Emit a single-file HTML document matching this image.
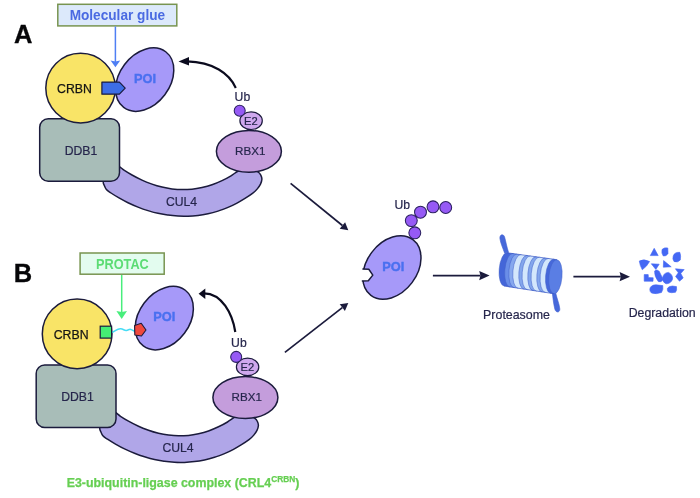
<!DOCTYPE html>
<html lang="en">
<head>
<meta charset="utf-8">
<title>Molecular glue and PROTAC degradation</title>
<style>
html,body{margin:0;padding:0;background:#fff;}
body{width:700px;height:498px;overflow:hidden;}
svg{display:block;filter:blur(0.55px);}
</style>
</head>
<body>
<svg width="700" height="498" viewBox="0 0 700 498" font-family="'Liberation Sans', Arial, sans-serif">
<rect width="700" height="498" fill="#ffffff"/>
<text x="13.9" y="42.9" font-size="25.5" font-weight="bold" fill="#060608" stroke="#060608" stroke-width="0.3">A</text>
<rect x="57.8" y="4.3" width="119" height="21.6" fill="#dce9fb" stroke="#789450" stroke-width="1.5"/>
<text x="117.4" y="20.2" font-size="15" font-weight="bold" text-anchor="middle" fill="#4a6ae2" textLength="95.5" lengthAdjust="spacingAndGlyphs">Molecular glue</text>
<path d="M115.4 26.5 V62" stroke="#4f7ff4" stroke-width="1.5" fill="none"/>
<polygon points="110.6,60.6 115.4,61.6 120.2,60.6 115.4,67.3" fill="#4f7ff4"/>
<g transform="translate(0,0)">
<path d="M118.0 165.9 C120.0 166.4 121.7 168.6 124.0 170.1 C126.3 171.6 129.0 173.3 132.0 175.0 C135.0 176.7 138.7 178.6 142.0 180.1 C145.3 181.6 148.7 182.9 152.0 184.1 C155.3 185.3 158.7 186.3 162.0 187.1 C165.3 187.9 168.7 188.5 172.0 188.9 C175.3 189.3 178.7 189.6 182.0 189.6 C185.3 189.6 188.7 189.5 192.0 189.2 C195.3 188.9 198.7 188.3 202.0 187.6 C205.3 186.9 208.7 186.0 212.0 184.8 C215.3 183.6 218.8 182.1 222.0 180.6 C225.2 179.1 228.2 177.5 231.0 175.8 C233.8 174.1 236.0 172.1 239.0 170.5 C242.0 168.9 245.8 166.2 249.0 166.5 C252.2 166.8 256.1 170.5 258.1 172.0 C260.1 173.5 260.3 174.1 260.9 175.3 C261.5 176.5 262.0 177.8 261.9 179.3 C261.8 180.8 261.3 182.5 260.5 184.1 C259.7 185.7 258.6 187.3 257.3 188.9 C256.0 190.5 254.6 191.8 252.5 193.4 C250.4 195.0 247.6 196.8 245.0 198.4 C242.4 200.0 239.8 201.6 237.0 203.1 C234.2 204.6 231.2 206.1 228.0 207.4 C224.8 208.7 221.3 210.1 218.0 211.1 C214.7 212.1 211.3 213.0 208.0 213.7 C204.7 214.4 201.3 215.0 198.0 215.4 C194.7 215.8 191.3 216.1 188.0 216.2 C184.7 216.3 181.3 216.3 178.0 216.1 C174.7 215.9 171.3 215.6 168.0 215.1 C164.7 214.6 161.3 214.1 158.0 213.3 C154.7 212.6 151.3 211.6 148.0 210.6 C144.7 209.6 141.3 208.4 138.0 207.1 C134.7 205.8 131.2 204.2 128.0 202.7 C124.8 201.2 121.8 199.5 119.0 197.9 C116.2 196.3 113.1 194.4 111.0 193.0 C108.9 191.6 107.5 190.9 106.4 189.6 C105.3 188.3 104.7 186.6 104.2 185.3 C103.7 184.0 103.0 183.6 103.3 181.7 C103.6 179.8 104.5 176.4 106.0 174.0 C107.5 171.6 110.0 168.3 112.0 167.0 C114.0 165.7 116.0 165.4 118.0 165.9Z" fill="#b0a6e8" stroke="#1b1b3c" stroke-width="1.5" stroke-linejoin="round"/>
<text x="181.5" y="206.3" font-size="12.2" text-anchor="middle" fill="#26264c" stroke="#26264c" stroke-width="0.2">CUL4</text>
<rect x="39.7" y="118.8" width="79.8" height="62.5" rx="8.5" ry="8.5" fill="#a8bdb8" stroke="#1b1b3c" stroke-width="1.5"/>
<text x="81" y="154.5" font-size="12.2" text-anchor="middle" fill="#26264c" stroke="#26264c" stroke-width="0.2">DDB1</text>
<ellipse cx="248.9" cy="151.3" rx="32.5" ry="20.9" fill="#c49ddc" stroke="#1b1b3c" stroke-width="1.5"/>
<text x="250.2" y="155.2" font-size="11.6" text-anchor="middle" fill="#26264c" stroke="#26264c" stroke-width="0.2">RBX1</text>
<ellipse cx="251.1" cy="120.7" rx="11.2" ry="8.8" fill="#cfa8ee" stroke="#1b1b3c" stroke-width="1.2"/>
<text x="250.9" y="125.2" font-size="11.2" text-anchor="middle" fill="#26264c" stroke="#26264c" stroke-width="0.2">E2</text>
<circle cx="239.7" cy="110.7" r="5.5" fill="#965af5" stroke="#2a2060" stroke-width="1.05"/>
<text x="242.4" y="100.9" font-size="12.2" text-anchor="middle" fill="#26264c" stroke="#26264c" stroke-width="0.2">Ub</text>
</g>
<ellipse cx="144.7" cy="79.6" rx="25.2" ry="34.9" transform="rotate(37 144.7 79.6)" fill="#a699f9" stroke="#1b1b3c" stroke-width="1.5"/>
<text x="145" y="82.9" font-size="12.8" font-weight="bold" text-anchor="middle" fill="#4a70f0" stroke="#4a70f0" stroke-width="0.4">POI</text>
<circle cx="80.6" cy="88.1" r="34.8" fill="#f9e467" stroke="#1b1b3c" stroke-width="1.5"/>
<text x="74.5" y="92.6" font-size="12.3" text-anchor="middle" fill="#141414" stroke="#141414" stroke-width="0.25">CRBN</text>
<polygon points="101.9,82.1 119.4,82.1 125.2,88.1 119.4,94.2 101.9,94.2" fill="#3d6de6" stroke="#1b1b3c" stroke-width="1.2" stroke-linejoin="round"/>
<path d="M235.8 88 C229.5 73.5 213 62 187 61.4" fill="none" stroke="#0b0b1e" stroke-width="2.1"/>
<polygon points="178.5,61.4 189,57 189,65.5" fill="#0b0b1e"/>
<text x="13.8" y="282" font-size="25.5" font-weight="bold" fill="#060608" stroke="#060608" stroke-width="0.3">B</text>
<rect x="80.1" y="253" width="84.1" height="21.2" fill="#e3fcef" stroke="#789450" stroke-width="1.5"/>
<text x="122.4" y="269.3" font-size="14.4" font-weight="bold" text-anchor="middle" fill="#5cdc74" textLength="52.8" lengthAdjust="spacingAndGlyphs">PROTAC</text>
<path d="M121.7 275 V313" stroke="#48ee7c" stroke-width="1.5" fill="none"/>
<polygon points="116.4,311 121.7,312 127,311 121.7,319" fill="#48ee7c"/>
<g transform="translate(-3.5,246.2)">
<path d="M118.0 165.9 C120.0 166.4 121.7 168.6 124.0 170.1 C126.3 171.6 129.0 173.3 132.0 175.0 C135.0 176.7 138.7 178.6 142.0 180.1 C145.3 181.6 148.7 182.9 152.0 184.1 C155.3 185.3 158.7 186.3 162.0 187.1 C165.3 187.9 168.7 188.5 172.0 188.9 C175.3 189.3 178.7 189.6 182.0 189.6 C185.3 189.6 188.7 189.5 192.0 189.2 C195.3 188.9 198.7 188.3 202.0 187.6 C205.3 186.9 208.7 186.0 212.0 184.8 C215.3 183.6 218.8 182.1 222.0 180.6 C225.2 179.1 228.2 177.5 231.0 175.8 C233.8 174.1 236.0 172.1 239.0 170.5 C242.0 168.9 245.8 166.2 249.0 166.5 C252.2 166.8 256.1 170.5 258.1 172.0 C260.1 173.5 260.3 174.1 260.9 175.3 C261.5 176.5 262.0 177.8 261.9 179.3 C261.8 180.8 261.3 182.5 260.5 184.1 C259.7 185.7 258.6 187.3 257.3 188.9 C256.0 190.5 254.6 191.8 252.5 193.4 C250.4 195.0 247.6 196.8 245.0 198.4 C242.4 200.0 239.8 201.6 237.0 203.1 C234.2 204.6 231.2 206.1 228.0 207.4 C224.8 208.7 221.3 210.1 218.0 211.1 C214.7 212.1 211.3 213.0 208.0 213.7 C204.7 214.4 201.3 215.0 198.0 215.4 C194.7 215.8 191.3 216.1 188.0 216.2 C184.7 216.3 181.3 216.3 178.0 216.1 C174.7 215.9 171.3 215.6 168.0 215.1 C164.7 214.6 161.3 214.1 158.0 213.3 C154.7 212.6 151.3 211.6 148.0 210.6 C144.7 209.6 141.3 208.4 138.0 207.1 C134.7 205.8 131.2 204.2 128.0 202.7 C124.8 201.2 121.8 199.5 119.0 197.9 C116.2 196.3 113.1 194.4 111.0 193.0 C108.9 191.6 107.5 190.9 106.4 189.6 C105.3 188.3 104.7 186.6 104.2 185.3 C103.7 184.0 103.0 183.6 103.3 181.7 C103.6 179.8 104.5 176.4 106.0 174.0 C107.5 171.6 110.0 168.3 112.0 167.0 C114.0 165.7 116.0 165.4 118.0 165.9Z" fill="#b0a6e8" stroke="#1b1b3c" stroke-width="1.5" stroke-linejoin="round"/>
<text x="181.5" y="206.3" font-size="12.2" text-anchor="middle" fill="#26264c" stroke="#26264c" stroke-width="0.2">CUL4</text>
<rect x="39.7" y="118.8" width="79.8" height="62.5" rx="8.5" ry="8.5" fill="#a8bdb8" stroke="#1b1b3c" stroke-width="1.5"/>
<text x="81" y="154.5" font-size="12.2" text-anchor="middle" fill="#26264c" stroke="#26264c" stroke-width="0.2">DDB1</text>
<ellipse cx="248.9" cy="151.3" rx="32.5" ry="20.9" fill="#c49ddc" stroke="#1b1b3c" stroke-width="1.5"/>
<text x="250.2" y="155.2" font-size="11.6" text-anchor="middle" fill="#26264c" stroke="#26264c" stroke-width="0.2">RBX1</text>
<ellipse cx="251.1" cy="120.7" rx="11.2" ry="8.8" fill="#cfa8ee" stroke="#1b1b3c" stroke-width="1.2"/>
<text x="250.9" y="125.2" font-size="11.2" text-anchor="middle" fill="#26264c" stroke="#26264c" stroke-width="0.2">E2</text>
<circle cx="239.7" cy="110.7" r="5.5" fill="#965af5" stroke="#2a2060" stroke-width="1.05"/>
<text x="242.4" y="100.9" font-size="12.2" text-anchor="middle" fill="#26264c" stroke="#26264c" stroke-width="0.2">Ub</text>
</g>
<ellipse cx="164.3" cy="318.1" rx="25.2" ry="34.9" transform="rotate(37 164.3 318.1)" fill="#a699f9" stroke="#1b1b3c" stroke-width="1.5"/>
<text x="164.3" y="321.4" font-size="12.8" font-weight="bold" text-anchor="middle" fill="#4a70f0" stroke="#4a70f0" stroke-width="0.4">POI</text>
<circle cx="77.1" cy="333.9" r="34.8" fill="#f9e467" stroke="#1b1b3c" stroke-width="1.5"/>
<text x="71.1" y="339" font-size="12.3" text-anchor="middle" fill="#141414" stroke="#141414" stroke-width="0.25">CRBN</text>
<path d="M112 332.4 C115 331.6 117 328.6 120.6 328.8 C123.6 329 124 330.6 126.4 330.4 C128.4 330.2 129 329 130.6 329.4 C132 329.8 133 331 134.6 331.2" fill="none" stroke="#45dcf5" stroke-width="1.5"/>
<rect x="100.2" y="326.2" width="11.4" height="11.9" fill="#45ee74" stroke="#1b1b3c" stroke-width="1.2"/>
<polygon points="134.6,325.4 141.2,323.2 146,330 141.5,336 134.8,335" fill="#f0483e" stroke="#1b1b3c" stroke-width="1.1" stroke-linejoin="round"/>
<path d="M235.3 332 C232.5 314 222 293.4 204 293.3" fill="none" stroke="#0b0b1e" stroke-width="2.2"/>
<polygon points="198.6,293.8 205.3,288.5 205.3,298.9" fill="#0b0b1e"/>
<text x="66.7" y="487.4" font-size="12.4" font-weight="bold" fill="#66cf52" stroke="#66cf52" stroke-width="0.25">E3-ubiquitin-ligase complex (CRL4<tspan font-size="8.3" dy="-5">CRBN</tspan><tspan dy="5">)</tspan></text>
<line x1="290.6" y1="183.3" x2="342.4" y2="225.5" stroke="#1b1b3c" stroke-width="1.7"/>
<polygon points="348.3,230.3 339.7,228.8 342.4,225.5 345.1,222.2" fill="#1b1b3c"/>
<line x1="284.9" y1="352.3" x2="342.3" y2="307.6" stroke="#1b1b3c" stroke-width="1.7"/>
<polygon points="348.3,302.9 344.9,311.0 342.3,307.6 339.7,304.2" fill="#1b1b3c"/>
<ellipse cx="391.9" cy="267.5" rx="25.2" ry="34.9" transform="rotate(37 391.9 267.5)" fill="#a699f9" stroke="#1b1b3c" stroke-width="1.5"/>
<path d="M355 268.9 L368.8 269.3 L372.8 275.1 L368.3 280.8 L355 281 Z" fill="#ffffff"/>
<path d="M362.4 268.9 L368.8 269.3 L372.8 275.1 L368.3 280.8 L361.8 281" fill="none" stroke="#1b1b3c" stroke-width="1.5" stroke-linejoin="round"/>
<text x="393.2" y="270.9" font-size="12.8" font-weight="bold" text-anchor="middle" fill="#4a70f0" stroke="#4a70f0" stroke-width="0.4">POI</text>
<circle cx="414.8" cy="232.8" r="5.95" fill="#965af5" stroke="#2a2060" stroke-width="1.05"/>
<circle cx="411.3" cy="220.6" r="5.95" fill="#965af5" stroke="#2a2060" stroke-width="1.05"/>
<circle cx="420.5" cy="212.2" r="5.95" fill="#965af5" stroke="#2a2060" stroke-width="1.05"/>
<circle cx="433" cy="206.8" r="5.95" fill="#965af5" stroke="#2a2060" stroke-width="1.05"/>
<circle cx="445.7" cy="207.5" r="5.95" fill="#965af5" stroke="#2a2060" stroke-width="1.05"/>
<text x="402.2" y="209.4" font-size="12.2" text-anchor="middle" fill="#26264c" stroke="#26264c" stroke-width="0.2">Ub</text>
<line x1="432.9" y1="275.6" x2="480.4" y2="275.6" stroke="#1b1b3c" stroke-width="1.7"/>
<polygon points="489.6,275.6 479.2,280.2 480.4,275.6 479.2,271.0" fill="#1b1b3c"/>
<line x1="573.4" y1="276.7" x2="620.8" y2="276.7" stroke="#1b1b3c" stroke-width="1.7"/>
<polygon points="630.0,276.7 619.6,281.3 620.8,276.7 619.6,272.1" fill="#1b1b3c"/>
<g>
<path d="M504.6 253 C503 248.5 500.6 243.5 499.9 238.6 C499.4 234.2 503.4 233.4 504.6 237 C505.8 241 506.6 246.5 508.6 252.5 Z" fill="#4668da" stroke="#3f5fd0" stroke-width="0.6" stroke-linejoin="round"/>
<path d="M552.3 293 C553 298 553.4 303 554.8 309 C555.8 313.2 560.2 312.8 559.8 308.8 C559.4 304 557 299 555.6 292.5 Z" fill="#4668da" stroke="#3f5fd0" stroke-width="0.6" stroke-linejoin="round"/>
<ellipse cx="505.60" cy="269.40" rx="6.40" ry="16.70" transform="rotate(5 505.60 269.40)" fill="#4466d8" stroke="#4261c8" stroke-width="0.5"/>
<polygon points="507.06,252.76 512.68,253.54 509.76,286.91 504.14,286.04" fill="#4466d8"/>
<ellipse cx="511.22" cy="270.22" rx="6.42" ry="16.75" transform="rotate(5 511.22 270.22)" fill="#6a8ee8" stroke="#4261c8" stroke-width="0.5"/>
<polygon points="512.68,253.54 516.80,254.11 513.88,287.54 509.76,286.91" fill="#6a8ee8"/>
<ellipse cx="515.34" cy="270.83" rx="6.44" ry="16.78" transform="rotate(5 515.34 270.83)" fill="#86a8ee" stroke="#4261c8" stroke-width="0.5"/>
<polygon points="516.80,254.11 520.82,254.67 517.89,288.16 513.88,287.54" fill="#86a8ee"/>
<ellipse cx="519.36" cy="271.42" rx="6.46" ry="16.81" transform="rotate(5 519.36 271.42)" fill="#d3e7fc" stroke="#4261c8" stroke-width="0.5"/>
<polygon points="520.82,254.67 526.85,255.50 523.91,289.09 517.89,288.16" fill="#d3e7fc"/>
<ellipse cx="525.38" cy="272.30" rx="6.48" ry="16.86" transform="rotate(5 525.38 272.30)" fill="#83a6ec" stroke="#4261c8" stroke-width="0.5"/>
<polygon points="526.85,255.50 530.16,255.96 527.22,289.61 523.91,289.09" fill="#83a6ec"/>
<ellipse cx="528.69" cy="272.79" rx="6.49" ry="16.89" transform="rotate(5 528.69 272.79)" fill="#d3e7fc" stroke="#4261c8" stroke-width="0.5"/>
<polygon points="530.16,255.96 535.89,256.76 532.94,290.49 527.22,289.61" fill="#d3e7fc"/>
<ellipse cx="534.42" cy="273.62" rx="6.52" ry="16.93" transform="rotate(5 534.42 273.62)" fill="#83a6ec" stroke="#4261c8" stroke-width="0.5"/>
<polygon points="535.89,256.76 539.21,257.22 536.25,291.00 532.94,290.49" fill="#83a6ec"/>
<ellipse cx="537.73" cy="274.11" rx="6.53" ry="16.96" transform="rotate(5 537.73 274.11)" fill="#d3e7fc" stroke="#4261c8" stroke-width="0.5"/>
<polygon points="539.21,257.22 544.93,258.01 541.97,291.89 536.25,291.00" fill="#d3e7fc"/>
<ellipse cx="543.45" cy="274.95" rx="6.55" ry="17.00" transform="rotate(5 543.45 274.95)" fill="#83a6ec" stroke="#4261c8" stroke-width="0.5"/>
<polygon points="544.93,258.01 548.25,258.47 545.28,292.40 541.97,291.89" fill="#83a6ec"/>
<ellipse cx="546.77" cy="275.43" rx="6.57" ry="17.03" transform="rotate(5 546.77 275.43)" fill="#d3e7fc" stroke="#4261c8" stroke-width="0.5"/>
<polygon points="548.25,258.47 553.68,259.22 550.70,293.24 545.28,292.40" fill="#d3e7fc"/>
<ellipse cx="552.19" cy="276.23" rx="6.59" ry="17.07" transform="rotate(5 552.19 276.23)" fill="#4668da" stroke="#4261c8" stroke-width="0.5"/>
<polygon points="553.68,259.22 556.89,259.67 553.91,293.73 550.70,293.24" fill="#4668da"/>
<ellipse cx="555.40" cy="276.70" rx="6.60" ry="17.10" transform="rotate(5 555.40 276.70)" fill="#5a7ee4" stroke="#4261c8" stroke-width="0.5"/>
<path d="M507.06 252.76 L556.89 259.67 M504.14 286.04 L553.91 293.73" stroke="#3a58c4" stroke-width="0.7" fill="none"/>
</g>
<text x="516.5" y="319.2" font-size="12.4" text-anchor="middle" fill="#26264c" stroke="#26264c" stroke-width="0.2">Proteasome</text>
<path d="M654.2 248.3 L650.3 255.6 L658.2 255.6 Z" fill="#4468f4" stroke="#4468f4" stroke-width="0.6" stroke-linejoin="round"/>
<path d="M662 249.5 Q664 247.2 667.8 248 L668 253.5 Q666.5 256.5 663.3 256 Q661.2 253.5 662 249.5 Z" fill="#4468f4" stroke="#4468f4" stroke-width="0.6" stroke-linejoin="round"/>
<path d="M673.2 256 Q674.5 252 679.8 252.3 Q681.2 256 680.3 260 Q677.5 263 674 261.5 Q672.2 259 673.2 256 Z" fill="#4468f4" stroke="#4468f4" stroke-width="0.6" stroke-linejoin="round"/>
<path d="M639.3 261 Q644 258.5 649.6 261.5 Q647 266.5 642.3 269.8 Q639.8 265.5 639.3 261 Z" fill="#4468f4" stroke="#4468f4" stroke-width="0.6" stroke-linejoin="round"/>
<path d="M651.3 263.8 L659.2 264.2 L655.8 269.4 Z" fill="#4468f4" stroke="#4468f4" stroke-width="0.6" stroke-linejoin="round"/>
<path d="M663.6 260.6 L671.2 266.8 L663.3 267.2 Z" fill="#4468f4" stroke="#4468f4" stroke-width="0.6" stroke-linejoin="round"/>
<path d="M675.4 268.8 L684.2 269.6 L680.8 273.5 L683.2 278 L679.5 281.2 L675.6 276.5 L678.3 272.8 Z" fill="#4468f4" stroke="#4468f4" stroke-width="0.6" stroke-linejoin="round"/>
<path d="M644.2 274.6 L648.2 274.6 L648.4 277.6 L653.2 277.8 L653 281.3 L644.2 281.2 Z" fill="#4468f4" stroke="#4468f4" stroke-width="0.6" stroke-linejoin="round"/>
<path d="M654.6 271 Q657 268.6 659.3 271.5 L663.2 279.5 Q661.5 282.8 658.3 281.6 Q654.3 276.5 654.6 271 Z" fill="#4468f4" stroke="#4468f4" stroke-width="0.6" stroke-linejoin="round"/>
<path d="M662.5 278 Q663.5 272.5 668.5 272.4 Q672.8 274.5 672.6 279 Q671 283.8 666 283.8 Q662.6 282.5 662.5 278 Z" fill="#4468f4" stroke="#4468f4" stroke-width="0.6" stroke-linejoin="round"/>
<path d="M649.8 289 Q650.5 285 656 284.8 L662.8 285.6 Q663.6 289.5 661.5 292.5 Q656 294.5 651.5 293 Q649.5 291.5 649.8 289 Z" fill="#4468f4" stroke="#4468f4" stroke-width="0.6" stroke-linejoin="round"/>
<path d="M667.3 288.5 Q668.5 286 672.5 286 L676.5 286.6 Q677.2 290 675.5 292.3 Q671 293.2 668.3 292 Q667 290.5 667.3 288.5 Z" fill="#4468f4" stroke="#4468f4" stroke-width="0.6" stroke-linejoin="round"/>
<text x="662.2" y="317.4" font-size="12.3" text-anchor="middle" fill="#26264c" stroke="#26264c" stroke-width="0.2">Degradation</text>
</svg>
</body>
</html>
